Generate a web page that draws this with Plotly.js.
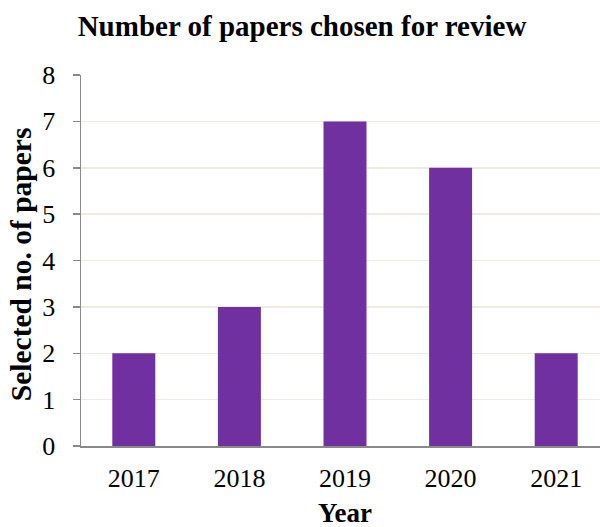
<!DOCTYPE html>
<html>
<head>
<meta charset="utf-8">
<script src="https://cdn.plot.ly/plotly-3.0.1.min.js"></script>
<style>html,body{margin:0;padding:0;background:#fff;overflow:hidden;width:600px;height:527px}</style>
</head>
<body>
<div id="chart" style="width:610px;height:527px"></div>
<script>
const years = ['2017', '2018', '2019', '2020', '2021'];
const papers = [2, 3, 7, 6, 2];
const yTicks = [0, 1, 2, 3, 4, 5, 6, 7, 8];

const serif = '"Liberation Serif", "Times New Roman", serif';

Plotly.newPlot('chart', [{
  type: 'bar',
  x: years,
  y: papers,
  marker: {color: '#7030A0'},
  hoverinfo: 'none'
}], {
  width: 610,
  height: 527,
  margin: {l: 81, r: 1, t: 75, b: 81},
  paper_bgcolor: '#ffffff',
  plot_bgcolor: '#ffffff',
  bargap: 0.593,
  showlegend: false,
  title: {
    text: '<b>Number of papers chosen for review</b>',
    font: {family: serif, size: 29, color: '#000'},
    x: 302 / 610, xanchor: 'center', xref: 'container',
    y: 1 - 26 / 527, yanchor: 'middle', yref: 'container'
  },
  xaxis: {
    type: 'category',
    range: [-0.5, 4.5],
    showline: true, linecolor: '#898989', linewidth: 1.5,
    ticks: '', showgrid: false,
    tickfont: {family: serif, size: 26, color: '#000'},
    ticklabelstandoff: 8
  },
  yaxis: {
    range: [0, 8],
    tickvals: yTicks,
    showline: true, linecolor: '#898989', linewidth: 1.5,
    ticks: 'outside', ticklen: 7, tickcolor: '#898989', tickwidth: 1.5,
    showgrid: true, gridcolor: '#EEEBE3', gridwidth: 1.5,
    zeroline: false,
    tickfont: {family: serif, size: 26, color: '#000'},
    ticklabelstandoff: 12
  },
  annotations: [
    {text: '<b>Year</b>', xref: 'paper', yref: 'paper', x: 0.5, y: -(513 - 446) / 371.5,
     xanchor: 'center', yanchor: 'middle', showarrow: false,
     font: {family: serif, size: 27, color: '#000'}},
    {text: '<b>Selected no. of papers</b>', xref: 'paper', yref: 'paper',
     x: -(81 - 21) / 528, y: (446 - 264) / 371.5, textangle: -90,
     xanchor: 'center', yanchor: 'middle', showarrow: false,
     font: {family: serif, size: 29.5, color: '#000'}}
  ]
}, {displayModeBar: false, staticPlot: true});
</script>
</body>
</html>
